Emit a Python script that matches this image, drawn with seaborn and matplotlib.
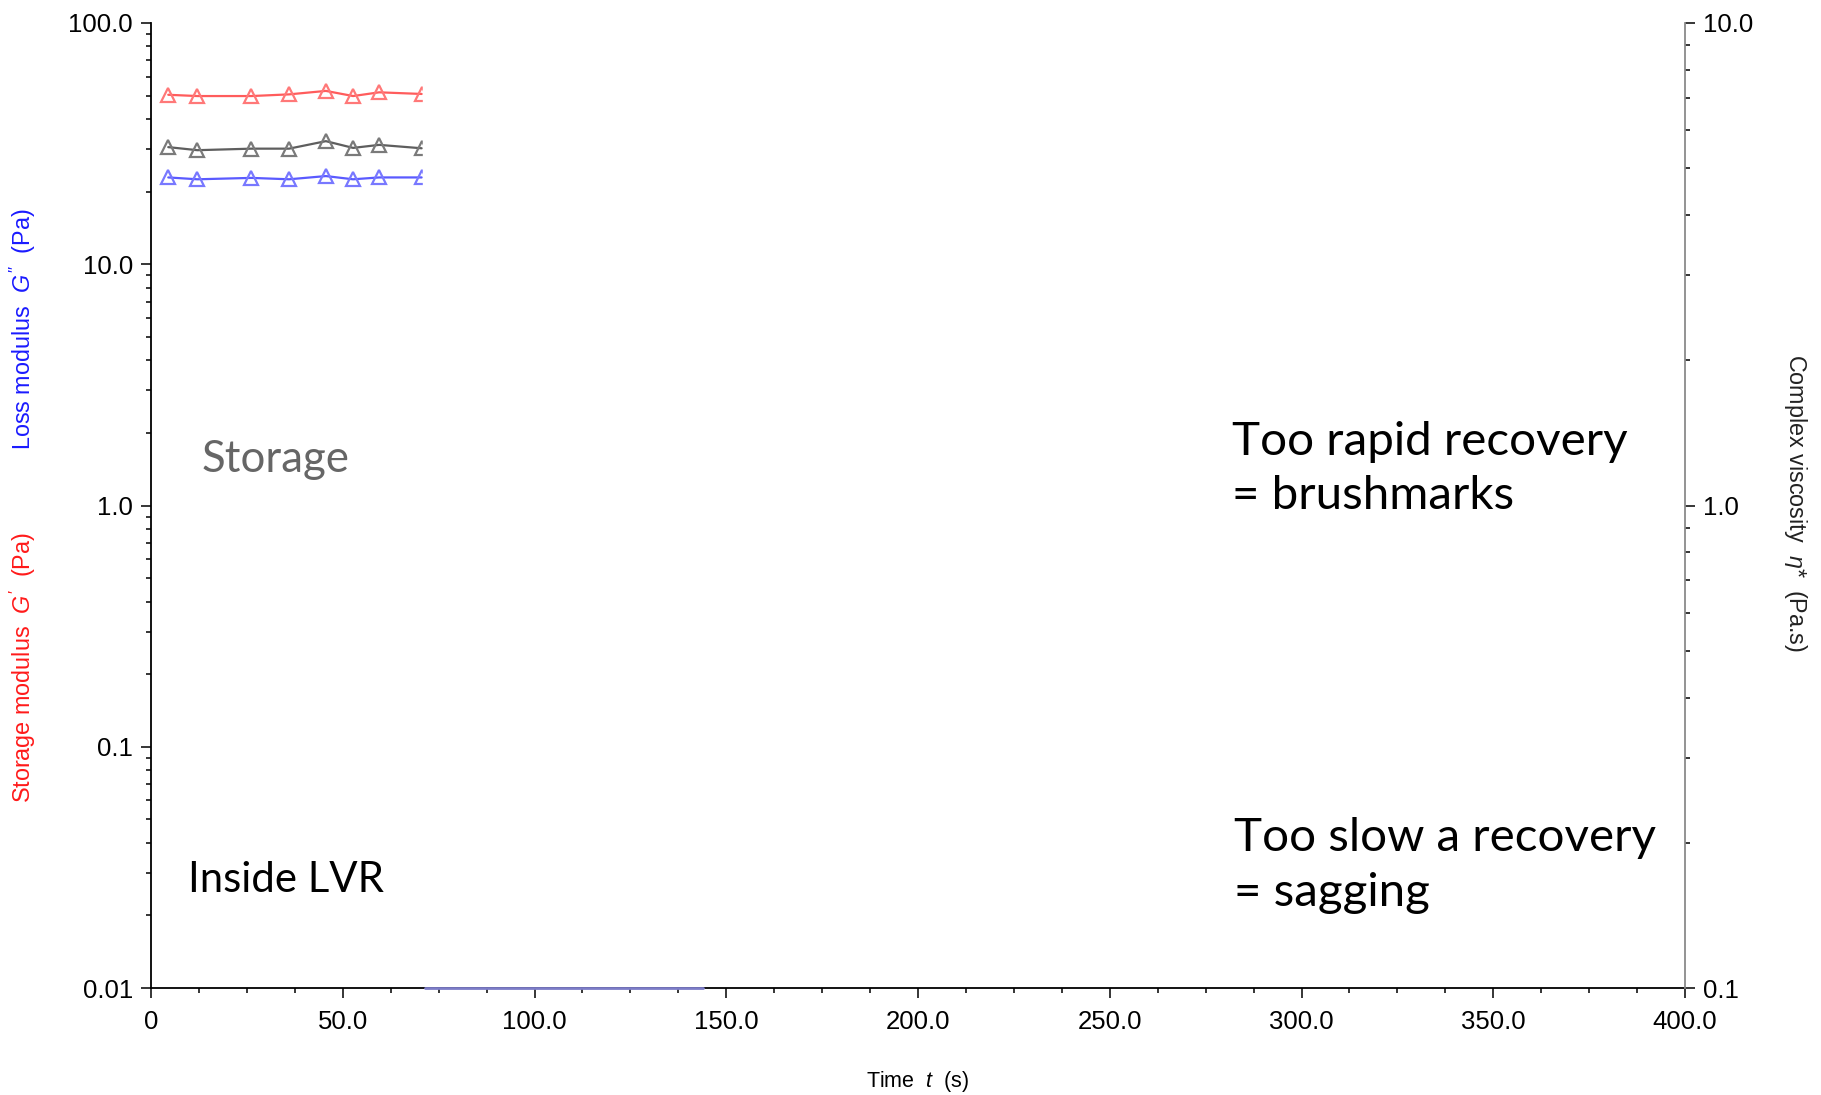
import matplotlib
matplotlib.use("Agg")
import matplotlib.pyplot as plt
import matplotlib.ticker as mticker
import seaborn as sns
import pandas as pd

# Oscillation time sweep: first segment (inside LVR)
time_s = [4.5, 12.1, 26.2, 36.0, 45.6, 52.7, 59.5, 70.6]
storage_modulus = [50.4, 49.8, 49.8, 50.6, 52.3, 49.8, 51.6, 50.8]   # G' (Pa)
loss_modulus = [22.9, 22.5, 22.8, 22.5, 23.2, 22.5, 22.9, 22.9]      # G'' (Pa)
complex_viscosity = [5.53, 5.45, 5.49, 5.49, 5.69, 5.51, 5.59, 5.50]  # eta* (Pa.s)

# High-shear segment, loss modulus at the floor of the scale
tail_time_s = [71.4, 144.0]
tail_loss_modulus = [0.01, 0.01]

x_ticks = [0, 50, 100, 150, 200, 250, 300, 350, 400]
x_tick_labels = ["0", "50.0", "100.0", "150.0", "200.0", "250.0", "300.0", "350.0", "400.0"]
left_ticks = [0.01, 0.1, 1, 10, 100]
left_tick_labels = ["0.01", "0.1", "1.0", "10.0", "100.0"]
right_ticks = [0.1, 1, 10]
right_tick_labels = ["0.1", "1.0", "10.0"]

sns.set_theme(style="white")
plt.rcParams["font.family"] = ["Liberation Sans", "DejaVu Sans"]
plt.rcParams["mathtext.fontset"] = "custom"
plt.rcParams["mathtext.rm"] = "Liberation Sans"
plt.rcParams["mathtext.it"] = "Liberation Sans:italic"

fig = plt.figure(figsize=(18.21, 10.95), dpi=100)
ax = fig.add_axes([151 / 1821, 1 - 988 / 1095, (1685 - 151) / 1821, (988 - 23) / 1095])
ax2 = ax.twinx()

df = pd.DataFrame({"t": time_s, "g1": storage_modulus, "g2": loss_modulus, "eta": complex_viscosity})

line_kw = dict(linewidth=1.6, marker="^", markersize=10, markerfacecolor="none",
               markeredgewidth=1.6, clip_on=True, zorder=2)
sns.lineplot(data=df, x="t", y="g1", ax=ax, color="#ff5c5c", markeredgecolor="#ff7878", **line_kw)
sns.lineplot(data=df, x="t", y="g2", ax=ax, color="#5a5aff", markeredgecolor="#7878ff", **line_kw)
sns.lineplot(data=df, x="t", y="eta", ax=ax2, color="#5e5e5e", markeredgecolor="#7a7a7a", **line_kw)

# later segments are masked out (leaving the bottom edge uncovered)
ax2.axvspan(71.0, 400, ymin=0.004, color="white", zorder=3)
tail = pd.DataFrame({"t": tail_time_s, "g2": tail_loss_modulus})
sns.lineplot(data=tail, x="t", y="g2", ax=ax, color="#7c7cc8",
             linewidth=2.0, clip_on=False, zorder=6)

for a in (ax, ax2):
    a.set_yscale("log")
    a.set_xlim(0, 400)
    a.set_xlabel("")
    a.set_ylabel("")
    a.set_facecolor("none")
ax.set_ylim(0.01, 100)
ax2.set_ylim(0.1, 10)

ax.set_xticks(x_ticks)
ax.set_xticklabels(x_tick_labels)
ax.xaxis.set_minor_locator(mticker.MultipleLocator(12.5))
ax.set_yticks(left_ticks)
ax.set_yticklabels(left_tick_labels)
ax.yaxis.set_minor_locator(mticker.LogLocator(base=10, subs=range(2, 10)))
ax.yaxis.set_minor_formatter(mticker.NullFormatter())
ax2.set_yticks(right_ticks)
ax2.set_yticklabels(right_tick_labels)
ax2.yaxis.set_minor_locator(mticker.LogLocator(base=10, subs=range(2, 10)))
ax2.yaxis.set_minor_formatter(mticker.NullFormatter())

for name, s in ax.spines.items():
    s.set_visible(name in ("left", "bottom"))
    s.set_linewidth(1.3)
    s.set_color("black")
for name, s in ax2.spines.items():
    s.set_visible(name == "right")
    s.set_zorder(10)
    s.set_linewidth(1.3)
    s.set_color("#8a8a8a")

ax.tick_params(axis="both", which="major", direction="out", length=7, width=1.1,
               color="black", labelsize=18.5, labelcolor="black", left=True, bottom=True, pad=6)
ax.tick_params(axis="both", which="minor", direction="out", length=3.5, width=1.1,
               color="black", left=True, bottom=True)
ax.tick_params(axis="x", which="major", pad=9)
ax2.tick_params(axis="y", which="major", direction="out", length=7, width=1.1, color="black",
                labelsize=18.5, labelcolor="black", right=True, pad=6)
ax2.tick_params(axis="y", which="minor", direction="out", length=3.5, width=1.1,
                color="black", right=True)

# axis titles
fig.text(0.5 * (151 + 1685) / 1821, 1 - 1082 / 1095, "Time  $t$  (s)", ha="center", va="center",
         fontsize=15.5, color="black")
fig.text(23 / 1821, 1 - 329 / 1095, "Loss modulus  $G''$  (Pa)", rotation=90,
         ha="center", va="center", fontsize=16.8, color="#1a1aff")
fig.text(23 / 1821, 1 - 668 / 1095, "Storage modulus  $G'$  (Pa)", rotation=90,
         ha="center", va="center", fontsize=16.8, color="#ff1a1a")
fig.text(1795 / 1821, 1 - 503 / 1095, "Complex viscosity  $\\eta$*  (Pa.s)", rotation=270,
         ha="center", va="center", fontsize=16.8, color="#222222")

# annotations
note_font = ["Lato", "DejaVu Sans"]
ax2.text(13.3 / 400, 0.5476, "Storage", transform=ax2.transAxes, ha="left", va="center",
         fontsize=31.5, color="#666666", family=note_font, zorder=7)
ax2.text(9.7 / 400, 0.1117, "Inside LVR", transform=ax2.transAxes, ha="left", va="center",
         fontsize=30.2, color="black", family=note_font, zorder=7)
ax2.text(281.8 / 400, 0.5378, "Too rapid recovery\n= brushmarks", transform=ax2.transAxes,
         ha="left", va="center", fontsize=34.2, color="black", family=note_font,
         linespacing=1.38, zorder=7)
ax2.text(282.4 / 400, 0.1272, "Too slow a recovery\n= sagging", transform=ax2.transAxes,
         ha="left", va="center", fontsize=34.2, color="black", family=note_font,
         linespacing=1.38, zorder=7)

fig.savefig("out.png", dpi=100)
